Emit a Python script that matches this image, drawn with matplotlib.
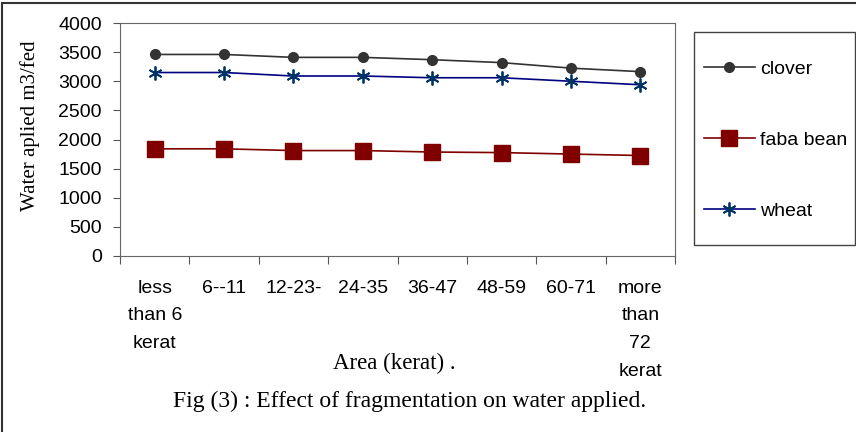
import matplotlib.pyplot as plt
from matplotlib.patches import Rectangle

# area classes (kerat) and water applied m3/fed
categories = ['less\nthan 6\nkerat', '6--11', '12-23-', '24-35', '36-47',
              '48-59', '60-71', 'more\nthan\n72\nkerat']
clover = [3460, 3460, 3410, 3410, 3370, 3320, 3225, 3165]
faba_bean = [1840, 1840, 1810, 1810, 1785, 1775, 1750, 1725]
wheat = [3150, 3150, 3090, 3090, 3060, 3060, 3000, 2940]

sans = ['Liberation Sans', 'DejaVu Sans']
serif = ['Liberation Serif', 'DejaVu Serif']

fig = plt.figure(figsize=(8.56, 4.32), dpi=100)
ax = fig.add_axes([120/856, 1-256/432, (675-120)/856, (256-23)/432])

x = list(range(len(categories)))
ax.plot(x, clover, color='#333333', lw=1.2, marker='o', ms=7, label='clover')
ax.plot(x, faba_bean, color='#800000', lw=1.2, marker='s', ms=12, label='faba bean')
ax.plot(x, wheat, color='#000080', lw=1.2, marker=(6, 2, 0), ms=10,
        mec='#003366', mew=1.3, label='wheat')

ax.set_xlim(-0.5, len(categories) - 0.5)
ax.set_ylim(0, 4000)
ax.set_yticks(range(0, 4001, 500))
ax.set_xticks([i - 0.5 for i in range(len(categories) + 1)])
ax.set_xticklabels([])
ax.set_xticks(x, minor=True)
ax.set_xticklabels(categories, minor=True, family=sans, fontsize=14, linespacing=1.82,
                   va='top')
ax.tick_params(axis='x', which='minor', length=0, pad=17)
ax.tick_params(axis='x', which='major', length=6, color='#555555')
ax.tick_params(axis='y', length=5, color='#555555', pad=8)
for lab in ax.get_yticklabels():
    lab.set_family(sans)
    lab.set_fontsize(14)
for s in ax.spines.values():
    s.set_color('#666666')

ax.set_ylabel('Water aplied m3/fed', family=serif, fontsize=15)
ax.yaxis.set_label_coords((40 - 120) / 555, 0.56)

fig.text(394/856, 1-363/432, 'Area (kerat) .', family=serif, fontsize=16.5,
         ha='center', va='center')
fig.text(410/856, 1-401/432, 'Fig (3) : Effect of fragmentation on water applied.',
         family=serif, fontsize=17, ha='center', va='center')

# legend entries without frame, box drawn separately
leg = fig.legend(loc='upper left', bbox_to_anchor=(704/856, 1-60/432), frameon=False,
                 prop={'family': sans, 'size': 14}, labelspacing=2.75, borderpad=0,
                 borderaxespad=0, handlelength=2.6, handletextpad=0.3)
fig.patches.append(Rectangle((694/856, 1-245/432), (855-694)/856, (245-32)/432,
                             transform=fig.transFigure, fill=False,
                             edgecolor='#444444', lw=1.0))

fig.patches.append(Rectangle((2/856, -0.05), 1.1, 1.05 - 3/432, transform=fig.transFigure,
                             fill=False, edgecolor='#333333', lw=1.5))

fig.savefig('out.png', dpi=100)
